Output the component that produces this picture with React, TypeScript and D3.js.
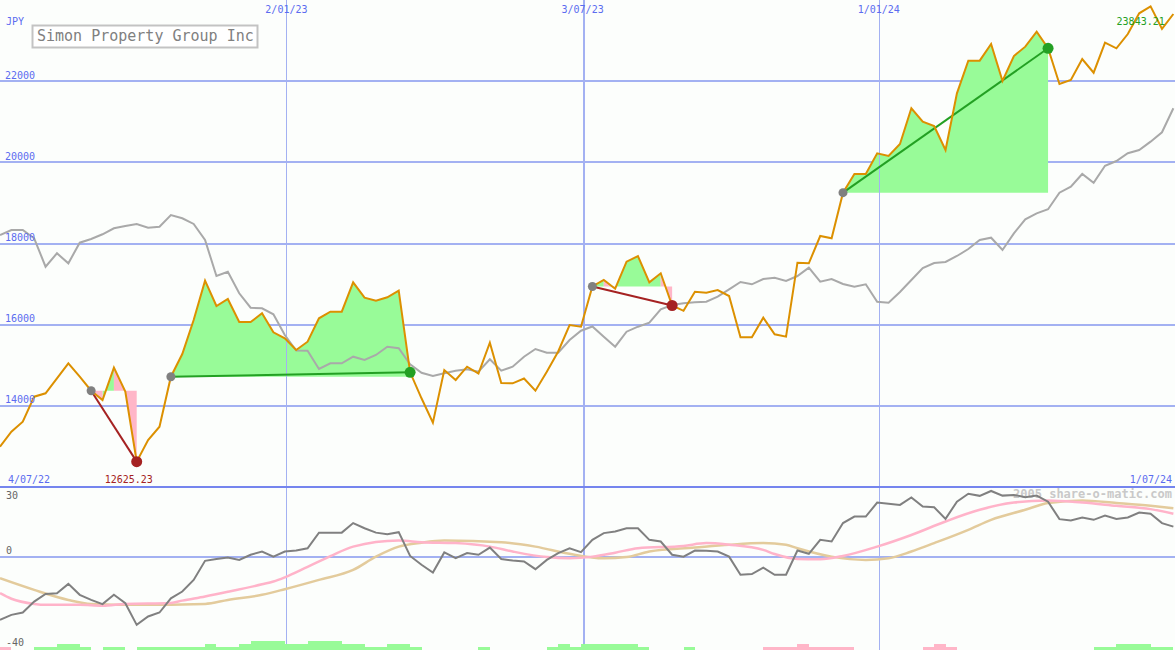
import React from 'react';
import * as d3 from 'd3';

const W = 1175;
const H = 650;
const START = new Date(2022, 6, 10);
const END = new Date(2024, 6, 1);

const title = 'Simon Property Group Inc';
const currency = 'JPY';
const watermark = '2005 share-o-matic.com';
const rangeStartLabel = '4/07/22';
const rangeEndLabel = '1/07/24';

const price = [12993, 13363, 13609, 14225, 14309, 14678, 15048, 14718, 14373, 14144,
  14940, 14350, 12625.23, 13158, 13486, 14718, 15277, 16115, 17084, 16460,
  16633, 16066, 16066, 16280, 15812, 15664, 15376, 15580, 16157, 16320,
  16320, 17044, 16665, 16591, 16674, 16837, 14826, 14186, 13584, 14883,
  14637, 14964, 14797, 15556, 14563, 14555, 14674, 14373, 14841, 15339,
  15992, 15950, 16941, 17101, 16886, 17552, 17692, 17044, 17266, 16472,
  16342, 16812, 16788, 16854, 16706, 15689, 15689, 16172, 15763, 15704,
  17527, 17512, 18185, 18128, 19252, 19713, 19713, 20223, 20156, 20452,
  21332, 21001, 20895, 20304, 21701, 22505, 22505, 22916, 22004, 22620,
  22850, 23219, 22810, 21930, 22029, 22546, 22209, 22948, 22810, 23162,
  23672, 23843.21, 23286, 23655];

const bench = [18209, 18333, 18333, 18128, 17428, 17759, 17512, 18020, 18111, 18227,
  18375, 18431, 18481, 18389, 18414, 18702, 18621, 18481, 18086, 17199,
  17305, 16773, 16418, 16403, 16256, 15745, 15363, 15360, 14908, 15048,
  15048, 15211, 15129, 15253, 15457, 15418, 15023, 14816, 14735, 14802,
  14866, 14900, 14841, 15147, 14866, 14964, 15211, 15400, 15309, 15309,
  15622, 15851, 15955, 15704, 15457, 15827, 15950, 16049, 16379, 16485,
  16526, 16551, 16566, 16689, 16871, 17051, 16995, 17125, 17157, 17076,
  17199, 17404, 17059, 17125, 17002, 16936, 16995, 16566, 16541, 16805,
  17101, 17396, 17520, 17544, 17692, 17865, 18086, 18143, 17840, 18251,
  18596, 18744, 18843, 19252, 19400, 19713, 19498, 19917, 20033, 20223,
  20304, 20509, 20740, 21332];

const momentum = [-27.1, -24.9, -23.9, -19.2, -15.9, -15.6, -11.6, -16.3, -18.5, -20.3,
  -16.3, -19.9, -29.2, -25.6, -23.9, -17.8, -14.9, -9.9, -1.7, -0.9,
  -0.3, -1.3, 0.9, 2.3, 0.1, 2.3, 2.7, 3.7, 10.4, 10.4,
  10.4, 14.5, 12.3, 10.4, 9.7, 10.6, 0.4, -3.4, -6.7, 1.9,
  -0.6, 1.6, 0.9, 4.0, -0.9, -1.6, -2.0, -5.3, -1.3, 1.6,
  3.7, 2.0, 7.3, 10.2, 10.9, 12.3, 12.3, 7.3, 6.6, 0.9,
  0.1, 2.7, 2.6, 2.3, 0.1, -7.7, -7.4, -4.6, -7.7, -7.7,
  2.7, 1.3, 7.3, 6.6, 14.5, 17.3, 17.3, 23.3, 22.8, 22.3,
  25.5, 21.6, 21.3, 16.3, 23.7, 27.1, 26.2, 28.3, 26.3, 26.6,
  25.6, 26.3, 23.7, 16.2, 15.6, 16.9, 15.9, 17.7, 16.3, 16.9,
  19.0, 18.5, 14.5, 13.0];

const fastIdx = [0, 1, 3, 4, 7, 9, 11, 15, 16, 18, 20, 23, 24, 25, 27, 29, 31, 35, 37, 40,
  43, 45, 48, 50, 52, 54, 56, 60, 62, 64, 67, 68, 70, 72, 74, 77, 80, 83, 86, 89,
  92, 95, 98, 101, 103];
const fastVals = [-15.6, -18, -20.2, -20.6, -20.6, -21, -20.2, -19.8, -18.8, -17, -15, -11.8, -10.6, -8.8, -4.3, 0.3, 4.4, 7.0, 6.3, 5.9,
  4.4, 2.3, -0.1, -0.6, 0.1, 1.8, 3.7, 4.7, 5.9, 5.2, 3.0, 1.2, -0.9, -1.0, 0.4, 4.4, 9.4, 15.2, 20.2, 23.3,
  24.2, 23.3, 21.9, 20.5, 18.5];

const slowIdx = [0, 3, 6, 8, 12, 18, 20, 23, 25, 28, 31, 33, 35, 37, 39, 44, 47, 50, 53, 55,
  57, 61, 64, 67, 69, 70, 73, 76, 78, 80, 82, 85, 87, 90, 92, 95, 98, 101, 103];
const slowVals = [-9.2, -14.2, -18.5, -20.2, -20.6, -20.2, -18.5, -16.3, -13.9, -9.9, -5.6, 0.1, 4.4, 6.1, 7.0, 6.3, 4.4, 1.3, -0.6, -0.1,
  2.3, 4.0, 5.2, 5.9, 5.2, 3.7, 0.1, -1.3, -0.6, 2.3, 5.9, 11.6, 15.9, 20.2, 23.1, 24.2, 23.1, 21.9, 20.9];

const bars = [-1, 0, 0, 1, 1, 2, 2, 1, 0, 1,
  1, 0, 1, 1, 1, 1, 1, 1, 2, 1,
  1, 2, 3, 3, 3, 2, 2, 3, 3, 3,
  2, 2, 1, 1, 2, 2, 1, 0, 0, 0,
  0, 0, 1, 0, 0, 0, 0, 0, 1, 2,
  1, 2, 2, 2, 2, 2, 1, 0, 0, 0,
  1, 0, 0, 0, 0, 0, 0, -1, -1, -1,
  -2, -1, -1, -1, -1, 0, 0, 0, 0, 0,
  0, -1, -2, -1, 0, 0, 0, 0, 0, 0,
  0, 0, 0, 0, 0, 0, 1, 1, 2, 2,
  2, 1, 1, 0];

const priceTicks = [14000, 16000, 18000, 20000, 22000];
const lowerTicks = [30, 0, -40];
const dateTicks = ['2023-01-02', '2023-07-03', '2024-01-01'];
const swings = [[8, 12], [15, 36], [52, 59], [74, 92]];

const FONT = 'DejaVu Sans Mono, monospace';
const BLUE_TXT = '#5b6cf0';
const GRID = '#a3b1f2';
const SEP = '#7585ee';
const ORANGE = '#dc9000';
const GREEN_FILL = '#98fb98';
const PINK_FILL = '#ffb6c8';
const DARK_GREEN = '#23a023';
const DARK_RED = '#a52222';

export default function App() {
  const x = d3.scaleTime().domain([START, END]).range([0, W]);
  const dateAt = (i: number) => d3.timeDay.offset(START, 7 * i);
  const X = (i: number) => x(dateAt(i));
  const yTop = d3.scaleLinear().domain([12000, 24000]).range([487, 0]);
  const yBot = d3.scaleLinear().domain([-40, 30]).range([650, 487]);
  const barH = d3.scaleLinear().domain([0, 3]).range([0, 9]);
  const fmtDate = d3.timeFormat('%-d/%m/%y');
  const parse = d3.timeParse('%Y-%m-%d');

  const priceLine = d3.line<number>().x((_, i) => X(i)).y((d) => yTop(d));
  const benchLine = d3.line<number>().x((_, i) => X(i)).y((d) => yTop(d));
  const momLine = d3.line<number>().x((_, i) => X(i)).y((d) => yBot(d));
  const maLine = d3.line<[number, number]>().x((d) => X(d[0])).y((d) => yBot(d[1])).curve(d3.curveMonotoneX);

  const greenPath = d3.path();
  const pinkPath = d3.path();
  swings.forEach(([s, e]) => {
    const base = price[s];
    for (let i = s; i < e; i++) {
      const p = price[i + 1] >= base ? greenPath : pinkPath;
      p.moveTo(X(i), yTop(base));
      p.lineTo(X(i), yTop(price[i]));
      p.lineTo(X(i + 1), yTop(price[i + 1]));
      p.lineTo(X(i + 1), yTop(base));
      p.closePath();
    }
  });

  const minI = d3.minIndex(price);
  const maxI = d3.maxIndex(price);

  return (
    <svg width={W} height={H} style={{ position: 'absolute', left: 0, top: 0, background: '#fcfefc' }}>
      <rect x={0} y={0} width={W} height={H} fill="#fcfefc" />
      {priceTicks.map((t) => (
        <line key={t} x1={0} x2={W} y1={Math.round(yTop(t))} y2={Math.round(yTop(t))} stroke={GRID} strokeWidth={2} shapeRendering="crispEdges" />
      ))}
      <line x1={0} x2={W} y1={Math.round(yBot(0))} y2={Math.round(yBot(0))} stroke={GRID} strokeWidth={2} shapeRendering="crispEdges" />
      <path d={greenPath.toString()} fill={GREEN_FILL} stroke="none" />
      <path d={pinkPath.toString()} fill={PINK_FILL} stroke="none" />
      {dateTicks.map((t, k) => (
        <line key={t} x1={Math.round(x(parse(t)!)) + 0.5} x2={Math.round(x(parse(t)!)) + 0.5} y1={0} y2={H}
          stroke={GRID} strokeWidth={k === 1 ? 2 : 1} shapeRendering="crispEdges" />
      ))}
      <line x1={0} x2={W} y1={487} y2={487} stroke={SEP} strokeWidth={2} shapeRendering="crispEdges" />
      <text x={1172} y={498} textAnchor="end" fontFamily={FONT} fontSize={12} fontWeight="bold" fill="#c9c9c9">{watermark}</text>
      {bars.map((b, i) => b === 0 ? null : (
        <rect key={i} x={X(i)} width={X(i + 1) - X(i)} y={H - barH(Math.abs(b))} height={barH(Math.abs(b))}
          fill={b > 0 ? GREEN_FILL : PINK_FILL} shapeRendering="crispEdges" />
      ))}
      <path d={maLine(slowIdx.map((v, k) => [v, slowVals[k]]))!} fill="none" stroke="#e3cb9c" strokeWidth={2.5} />
      <path d={maLine(fastIdx.map((v, k) => [v, fastVals[k]]))!} fill="none" stroke="#ffb3c9" strokeWidth={2.5} />
      <path d={momLine(momentum)!} fill="none" stroke="#808080" strokeWidth={2} />
      <path d={benchLine(bench)!} fill="none" stroke="#a9a9a9" strokeWidth={2} />
      {swings.map(([s, e], k) => (
        <line key={k} x1={X(s)} y1={yTop(price[s])} x2={X(e)} y2={yTop(price[e])}
          stroke={price[e] >= price[s] ? DARK_GREEN : DARK_RED} strokeWidth={2} />
      ))}
      <path d={priceLine(price)!} fill="none" stroke={ORANGE} strokeWidth={2} />
      {swings.map(([s, e], k) => (
        <g key={k}>
          <circle cx={X(s)} cy={yTop(price[s])} r={4.5} fill="#808080" />
          <circle cx={X(e)} cy={yTop(price[e])} r={5.5} fill={price[e] >= price[s] ? DARK_GREEN : DARK_RED} />
        </g>
      ))}
      <text x={6} y={25} fontFamily={FONT} fontSize={10} fill={BLUE_TXT}>{currency}</text>
      {priceTicks.map((t) => (
        <text key={t} x={5} y={yTop(t) - 2.5} fontFamily={FONT} fontSize={10} fill={BLUE_TXT}>{t}</text>
      ))}
      {dateTicks.map((t) => (
        <text key={t} x={x(parse(t)!)} y={13} textAnchor="middle" fontFamily={FONT} fontSize={10} fill={BLUE_TXT}>{fmtDate(parse(t)!)}</text>
      ))}
      <text x={8} y={483} fontFamily={FONT} fontSize={10} fill={BLUE_TXT}>{rangeStartLabel}</text>
      <text x={1172} y={483} textAnchor="end" fontFamily={FONT} fontSize={10} fill={BLUE_TXT}>{rangeEndLabel}</text>
      <text x={X(minI) - 32} y={483} fontFamily={FONT} fontSize={10} fill={DARK_RED}>{price[minI].toFixed(2)}</text>
      <text x={X(maxI) - 34} y={25} fontFamily={FONT} fontSize={10} fill={DARK_GREEN}>{price[maxI].toFixed(2)}</text>
      {lowerTicks.map((t) => (
        <text key={t} x={6} y={t === 30 ? 499 : t === 0 ? 554 : 646} fontFamily={FONT} fontSize={10} fill="#666">{t}</text>
      ))}
      <rect x={32.5} y={25.5} width={225} height={22} fill="#ffffff" stroke="#c3c3c3" strokeWidth={2} />
      <text x={37} y={41} fontFamily={FONT} fontSize={15} fill="#808080">{title}</text>
    </svg>
  );
}
